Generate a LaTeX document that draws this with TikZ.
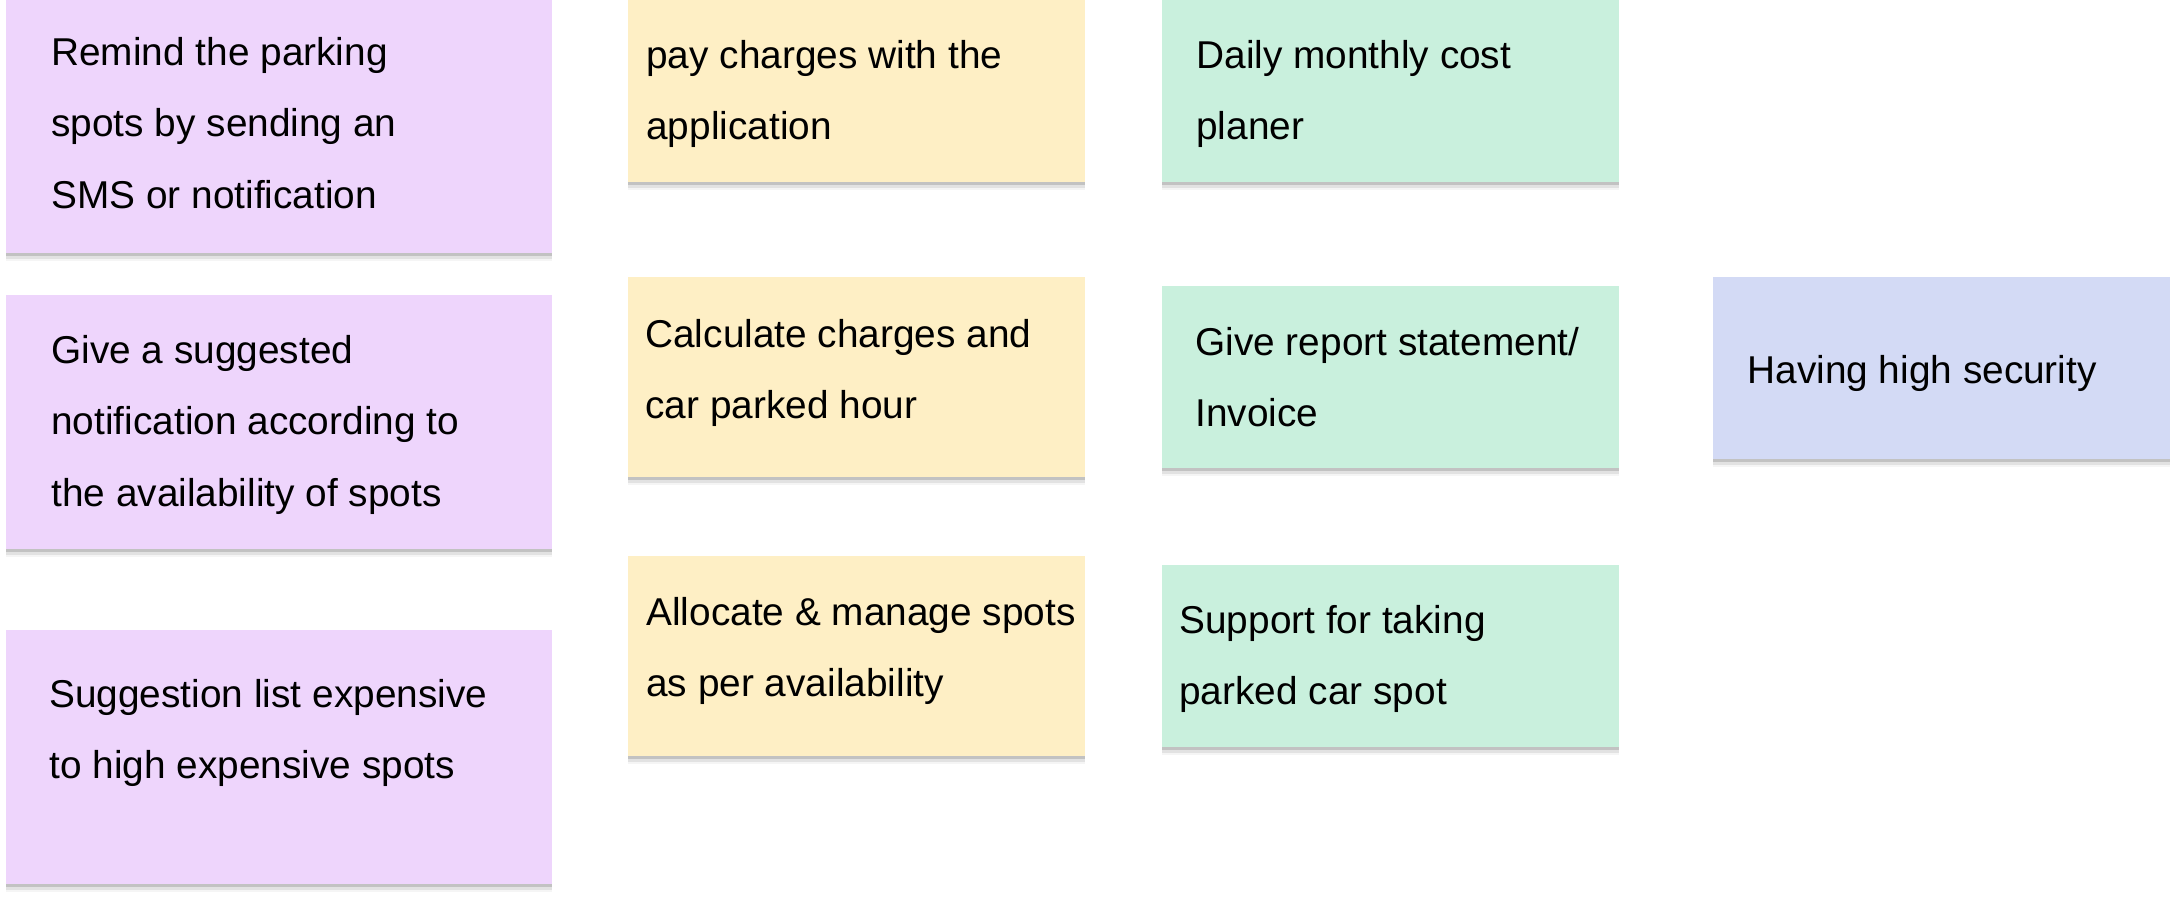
\documentclass[tikz,border=0pt]{standalone}
\usepackage{fontspec}
\setmainfont{Liberation Sans}
\usetikzlibrary{shadows}
\definecolor{cpurple}{HTML}{EED5FC}
\definecolor{cyellow}{HTML}{FEEFC5}
\definecolor{cgreen}{HTML}{C9F0DD}
\definecolor{cblue}{HTML}{D3DAF5}
\definecolor{ctext}{HTML}{000000}
\tikzset{
  note/.style={fill=#1, draw=none, inner sep=0pt, anchor=north west,
    drop shadow={shadow xshift=0pt, shadow yshift=-1.2pt, opacity=0.14, fill=black},
    drop shadow={shadow xshift=0pt, shadow yshift=-2.6pt, opacity=0.08, fill=black},
    drop shadow={shadow xshift=0pt, shadow yshift=-4pt, opacity=0.04, fill=black}},
  label/.style={anchor=north west, inner sep=0pt, align=left, text=ctext,
    font=\fontsize{19.4}{35.75}\selectfont},
}
\newcommand{\st}{\rule{0pt}{15pt}}
\begin{document}
\begin{tikzpicture}[x=0.5pt,y=-0.5pt]
\useasboundingbox (0,0) rectangle (2177,896);
% purple column
\node[note=cpurple, minimum width=273pt, minimum height=126.5pt] (p1) at (6,0) {};
\node[note=cpurple, minimum width=273pt, minimum height=127pt] (p2) at (6,295) {};
\node[note=cpurple, minimum width=273pt, minimum height=127pt] (p3) at (6,630) {};
% yellow column
\node[note=cyellow, minimum width=228.5pt, minimum height=91pt] (y1) at (628,0) {};
\node[note=cyellow, minimum width=228.5pt, minimum height=100pt] (y2) at (628,277) {};
\node[note=cyellow, minimum width=228.5pt, minimum height=100pt] (y3) at (628,556) {};
% green column
\node[note=cgreen, minimum width=228.5pt, minimum height=91pt] (g1) at (1162,0) {};
\node[note=cgreen, minimum width=228.5pt, minimum height=91pt] (g2) at (1162,286) {};
\node[note=cgreen, minimum width=228.5pt, minimum height=91pt] (g3) at (1162,565) {};
% blue
\node[note=cblue, minimum width=228.5pt, minimum height=91pt] (b1) at (1713,277) {};
% texts (first baseline - 30px)
\node[label] (tp1) at (51,35) {\st Remind the parking\\spots by sending an\\SMS or notification};
\node[label] (tp2) at (51,333) {\st Give a suggested\\notification according to\\the availability of spots};
\node[label] (tp3) at (49,677) {\st Suggestion list expensive\\to high expensive spots};
\node[label] (ty1) at (646,38) {\st pay charges with the\\application};
\node[label] (ty2) at (645,317) {\st Calculate charges and\\car parked hour};
\node[label] (ty3) at (646,595) {\st Allocate \& manage spots\\as per availability};
\node[label] (tg1) at (1196,38) {\st Daily monthly cost\\planer};
\node[label] (tg2) at (1195,325) {\st Give report statement/\\Invoice};
\node[label] (tg3) at (1179,603) {\st Support for taking\\parked car spot};
\node[label] (tb1) at (1747,353) {\st Having high security};
\end{tikzpicture}
\end{document}
